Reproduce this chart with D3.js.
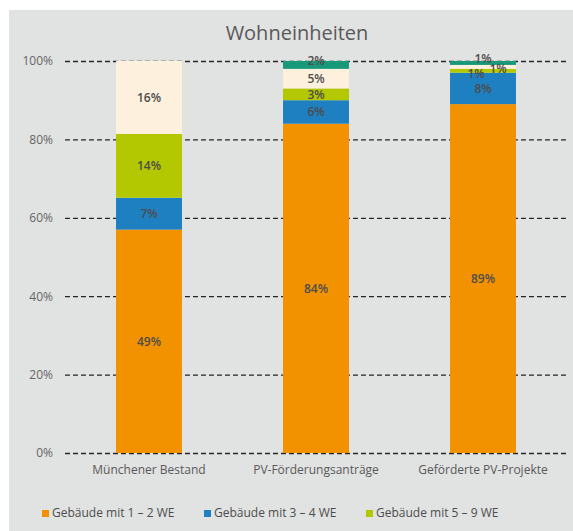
<!DOCTYPE html>
<html>
<head>
<meta charset="utf-8">
<script src="https://cdn.jsdelivr.net/npm/d3@7"></script>
<style>
    body { margin: 0; background: #fff; }
    svg { display: block; font-family: "Open Sans", "Noto Sans", sans-serif; }
</style>
</head>
<body>
<div id="chart"></div>
<script>
// categories and series (values as printed on the chart, in percent)
var categories = ["Münchener Bestand", "PV-Förderungsanträge", "Geförderte PV-Projekte"];
var seriesNames = ["Gebäude mit 1 – 2 WE", "Gebäude mit 3 – 4 WE", "Gebäude mit 5 – 9 WE", "Gebäude mit 10 – 19 WE", "Gebäude mit ≥ 20 WE"];
var seriesColors = ["#f39200", "#1f80c1", "#b3c800", "#fdf0dc", "#17997a"];
var we12 = [49, 84, 89];
var we34 = [7, 6, 8];
var we59 = [14, 3, 1];
var we1019 = [16, 5, 1];
var we20 = [0, 2, 1];
var yTicks = [0, 0.2, 0.4, 0.6, 0.8, 1];
var legendShown = 3;  // the rest of the legend is cut off in the original

var svg_width = 573, svg_height = 531;
var svg = d3.select("#chart").append("svg")
    .attr("width", svg_width)
    .attr("height", svg_height);

svg.append("rect")
    .attr("x", 9).attr("y", 10)
    .attr("width", svg_width - 9).attr("height", svg_height - 10)
    .attr("fill", "#e1e2e2");

svg.append("text")
    .attr("x", 297).attr("y", 40)
    .attr("text-anchor", "middle")
    .attr("font-size", 20)
    .attr("fill", "#595959")
    .text("Wohneinheiten");

var plotLeft = 65, plotRight = 567;
var y = d3.scaleLinear().domain([0, 1]).range([453, 61]);
var x = d3.scaleBand().domain(categories)
    .range([plotLeft + 0.5, plotRight - 0.5])
    .paddingInner(0.605).paddingOuter(0.3025);

// gridlines + tick labels
var yAxis = d3.axisLeft(y).tickValues(yTicks)
    .tickSize(-(plotRight - plotLeft))
    .tickPadding(12)
    .tickFormat(d3.format(".0%"));

var gAxis = svg.append("g")
    .attr("transform", "translate(" + plotLeft + ",0)")
    .call(yAxis);
gAxis.select(".domain").remove();
gAxis.selectAll(".tick line")
    .attr("stroke", "#262626")
    .attr("stroke-width", 1.3)
    .attr("stroke-dasharray", "5,3");
gAxis.selectAll(".tick text")
    .attr("font-size", 12)
    .attr("fill", "#666")
    .attr("font-family", "Open Sans, sans-serif");

// stack, normalised to 100%
var rows = categories.map(function(c, i) {
    return {cat: c, s0: we12[i], s1: we34[i], s2: we59[i], s3: we1019[i], s4: we20[i]};
});
var keys = ["s0", "s1", "s2", "s3", "s4"];
var stack = d3.stack().keys(keys).offset(d3.stackOffsetExpand);
var layers = stack(rows);

var gBars = svg.append("g");
layers.forEach(function(layer, li) {
    gBars.selectAll(".seg" + li)
        .data(layer.filter(function(d) { return d.data[keys[li]] > 0; }))
      .enter().append("rect")
        .attr("x", function(d) { return x(d.data.cat); })
        .attr("y", function(d) { return y(d[1]); })
        .attr("width", x.bandwidth())
        .attr("height", function(d) { return y(d[0]) - y(d[1]); })
        .attr("fill", seriesColors[li]);
});

// value labels
var gLabels = svg.append("g");
layers.forEach(function(layer, li) {
    gLabels.selectAll(".lab" + li)
        .data(layer.filter(function(d) { return d.data[keys[li]] > 0; }))
      .enter().append("text")
        .attr("x", function(d) {
            var cx = x(d.data.cat) + x.bandwidth() / 2;
            // small segments on the last bar are pushed apart like in the original
            if (d.data.cat === categories[2] && li === 2) cx -= 7;
            if (d.data.cat === categories[2] && li === 3) cx += 15;
            return cx;
        })
        .attr("y", function(d) {
            var cy = (y(d[0]) + y(d[1])) / 2;
            if (li === 4) cy -= 4;
            if (d.data.cat === categories[2] && li === 2) cy += 3;
            if (d.data.cat === categories[2] && li === 3) cy += 2;
            return cy;
        })
        .attr("dy", "0.35em")
        .attr("text-anchor", "middle")
        .attr("font-size", 12)
        .attr("font-weight", 600)
        .attr("fill", "#4d4d4d")
        .text(function(d) { return d.data[keys[li]] + "%"; });
});

// category labels
svg.append("g").selectAll("text")
    .data(categories)
  .enter().append("text")
    .attr("x", function(d) { return x(d) + x.bandwidth() / 2; })
    .attr("y", 474)
    .attr("text-anchor", "middle")
    .attr("font-size", 12)
    .attr("fill", "#595959")
    .text(function(d) { return d; });

// legend
var legend = svg.append("g").selectAll("g")
    .data(seriesNames.slice(0, legendShown))
  .enter().append("g")
    .attr("transform", function(d, i) { return "translate(" + (42 + i * 162) + ",517)"; });
legend.append("rect")
    .attr("x", 0).attr("y", -7)
    .attr("width", 7).attr("height", 7)
    .attr("fill", function(d, i) { return seriesColors[i]; });
legend.append("text")
    .attr("x", 10).attr("y", 0)
    .attr("font-size", 12)
    .attr("fill", "#4d4d4d")
    .text(function(d) { return d; });
</script>
</body>
</html>
